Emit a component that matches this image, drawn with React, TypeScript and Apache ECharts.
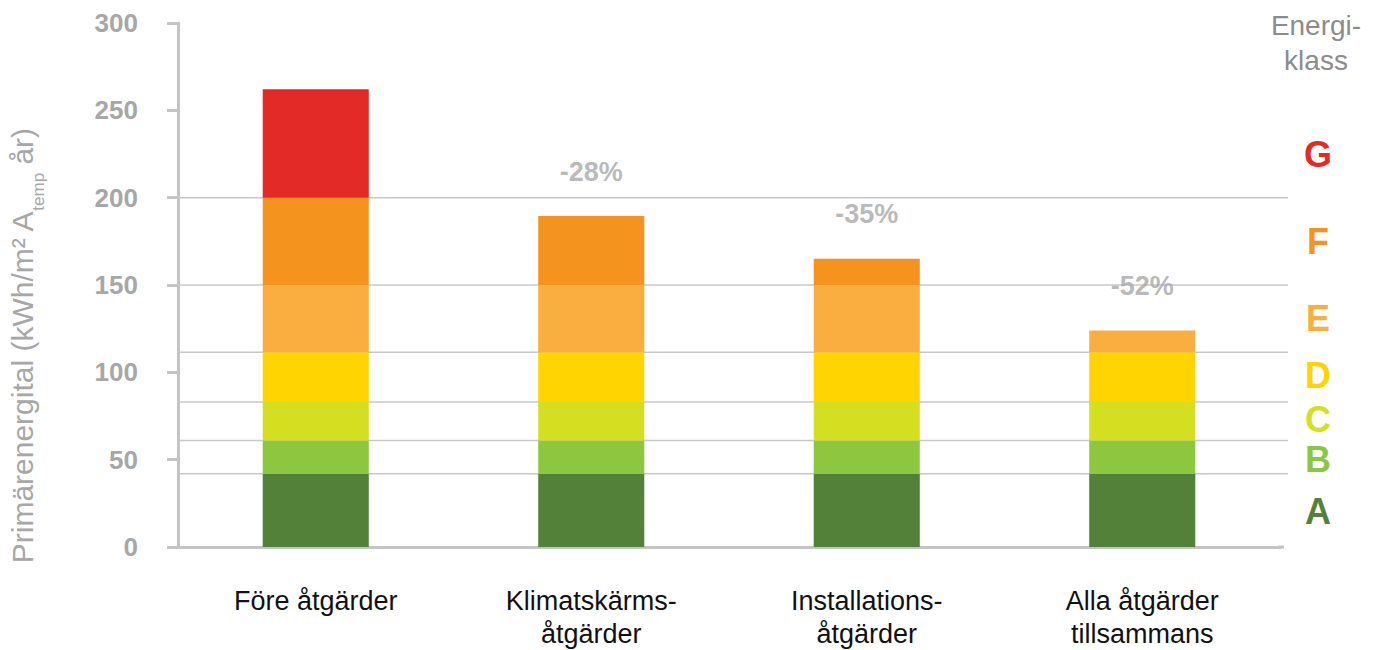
import React, { useEffect, useRef } from "react";
import * as echarts from "echarts";

const categories = [
  "Före åtgärder",
  "Klimatskärms-\nåtgärder",
  "Installations-\nåtgärder",
  "Alla åtgärder\ntillsammans",
];
const classNames = ["A", "B", "C", "D", "E", "F", "G"];
const classColors = ["#548139", "#8DC63F", "#D5DF22", "#FFD400", "#FBAE40", "#F5931F", "#E32A26"];
// class band boundaries (lower bound of each class)
const classBounds = [0, 42, 61, 83, 111.5, 150, 200];
// where each class letter sits on the value scale
const classLabelValues = [20.4, 50.3, 72.9, 98, 131, 175, 225];
const totals = [262, 189.5, 165, 124];
const changeLabels = ["", "-28%", "-35%", "-52%"];
const yMin = 0;
const yMax = 300;
const yInterval = 50;

const FONT = "'Liberation Sans', Arial, Helvetica, sans-serif";
const GRAY = "#a7a7a7";

export default function App() {
  const ref = useRef<HTMLDivElement>(null);

  useEffect(() => {
    if (!ref.current) return;
    document.body.style.margin = "0";
    document.body.style.overflow = "hidden";
    document.documentElement.style.overflow = "hidden";
    const chart = echarts.init(ref.current, undefined, { renderer: "svg", width: 1374, height: 650 });

    const barSeries = classNames.map((name, i) => {
      const lo = classBounds[i];
      const hi = i === classNames.length - 1 ? Infinity : classBounds[i + 1];
      return {
        name,
        type: "bar",
        stack: "total",
        barWidth: "38.5%",
        z: 2,
        itemStyle: { color: classColors[i] },
        data: totals.map((t) => Math.max(0, Math.min(t, hi) - lo)),
      };
    });

    chart.setOption({
      animation: false,
      textStyle: { fontFamily: FONT },
      grid: { left: 178, right: 94, top: 23, bottom: 98, containLabel: false },
      xAxis: {
        type: "category",
        data: categories,
        axisTick: { show: false },
        axisLine: { lineStyle: { color: "#c4c4c4", width: 3 } },
        axisLabel: {
          interval: 0,
          margin: 37,
          color: "#111111",
          fontSize: 27,
          lineHeight: 33,
          fontFamily: FONT,
        },
      },
      yAxis: {
        type: "value",
        min: yMin,
        max: yMax,
        interval: yInterval,
        splitLine: { show: false },
        axisLine: { show: true, lineStyle: { color: "#c4c4c4", width: 3 } },
        axisTick: { show: true, length: 11, lineStyle: { color: "#c4c4c4", width: 3 } },
        axisLabel: {
          margin: 40,
          color: GRAY,
          fontSize: 26,
          fontWeight: "bold",
          fontFamily: FONT,
        },
      },
      series: [
        ...barSeries,
        {
          name: "change",
          type: "scatter",
          symbolSize: 0,
          z: 3,
          data: totals,
          label: {
            show: true,
            position: "top",
            distance: 31,
            color: GRAY,
            fontSize: 27,
            fontWeight: "bold",
            fontFamily: FONT,
            formatter: (p: any) => changeLabels[p.dataIndex],
          },
        },
      ],
    });

    const gridLeft = 178;
    const lineRight = 1288;
    const graphics: any[] = [];
    classBounds.slice(1).forEach((v) => {
      const y = chart.convertToPixel({ yAxisIndex: 0 }, v) as number;
      graphics.push({
        type: "line",
        z: 1,
        shape: { x1: gridLeft, y1: y, x2: lineRight, y2: y },
        style: { stroke: "#c8c8c8", lineWidth: 1.5 },
      });
    });
    const y0 = chart.convertToPixel({ yAxisIndex: 0 }, 0) as number;
    graphics.push({
      type: "line",
      z: 1,
      shape: { x1: 1278, y1: y0, x2: 1284, y2: y0 },
      style: { stroke: "#c4c4c4", lineWidth: 3 },
    });
    classNames.forEach((name, i) => {
      const y = chart.convertToPixel({ yAxisIndex: 0 }, classLabelValues[i]) as number;
      graphics.push({
        type: "text",
        z: 5,
        x: 1318,
        y,
        style: {
          text: name,
          fill: classColors[i],
          font: `bold 36px ${FONT}`,
          lineHeight: 30,
          align: "center",
          verticalAlign: "middle",
        },
      });
    });
    graphics.push({
      type: "text",
      z: 5,
      x: 1316,
      y: 8,
      style: {
        text: "Energi-\nklass",
        fill: "#8c8c8c",
        font: `28px ${FONT}`,
        lineHeight: 35,
        align: "center",
        verticalAlign: "top",
      },
    });
    graphics.push({
      type: "text",
      z: 5,
      x: 22,
      y: 346,
      rotation: Math.PI / 2,
      style: {
        text: "{a|Primärenergital (kWh/m² A}{s|temp}{a| år)}",
        align: "center",
        verticalAlign: "middle",
        rich: {
          a: { fontSize: 30, fontFamily: FONT, fill: GRAY, lineHeight: 50, verticalAlign: "middle" },
          s: { fontSize: 17, fontFamily: FONT, fill: GRAY, lineHeight: 17, verticalAlign: "bottom" },
        },
      },
    });

    chart.setOption({ graphic: graphics });

    return () => {
      chart.dispose();
    };
  }, []);

  return (
    <div
      ref={ref}
      style={{ width: 1374, height: 650, background: "#ffffff" }}
    />
  );
}
